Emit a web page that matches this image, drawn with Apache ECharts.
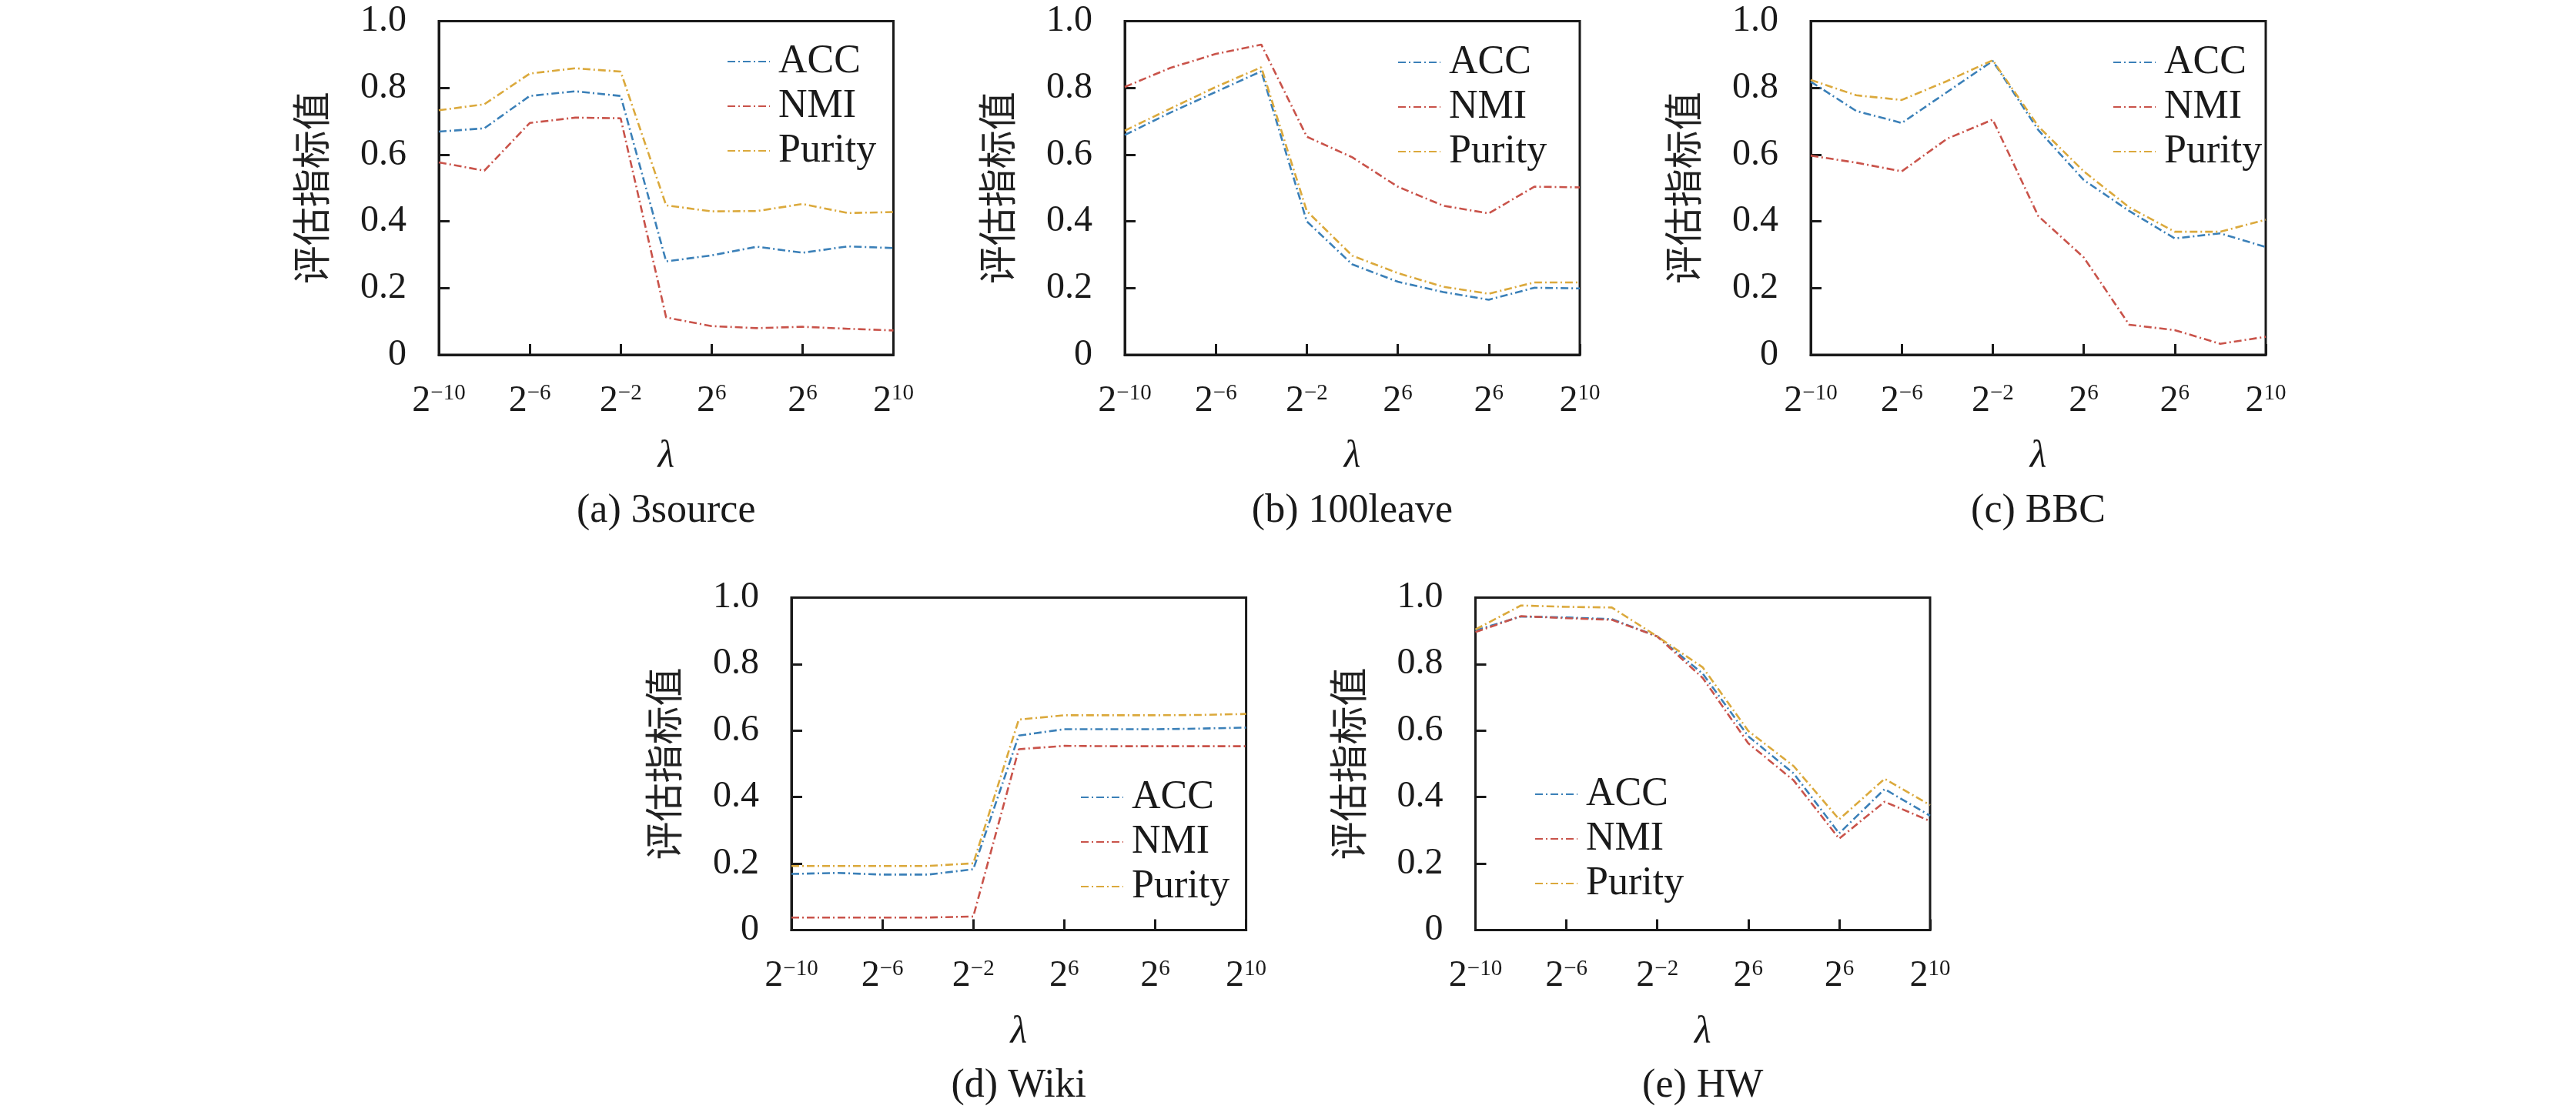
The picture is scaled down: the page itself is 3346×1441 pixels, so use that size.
<!DOCTYPE html>
<html>
<head>
<meta charset="utf-8">
<script src="https://cdn.jsdelivr.net/npm/echarts@6/dist/echarts.min.js"></script>
<style>
html,body{margin:0;padding:0;background:#fff;}
#chart{width:3346px;height:1441px;}
</style>
</head>
<body>
<div id="chart"></div>
<script>
// ---- categories and tick labels ----
const lambdaCats = ['2^-10','2^-8','2^-6','2^-4','2^-2','2^0','2^2','2^4','2^6','2^8','2^10'];
const xTickBase = '2';
const xTickExps = ['\u221210','','\u22126','','\u22122','','6','','6','','10'];
const seriesNames = ['ACC','NMI','Purity'];
const yAxisName = '评估指标值';
const xAxisName = 'λ';
const captions = ['(a) 3source','(b) 100leave','(c) BBC','(d) Wiki','(e) HW'];

// ---- values ----
const src3ACC = [0.669,0.679,0.776,0.790,0.776,0.280,0.298,0.324,0.306,0.325,0.320];
const src3NMI = [0.577,0.552,0.695,0.711,0.709,0.112,0.086,0.080,0.084,0.078,0.073];
const src3Purity = [0.733,0.751,0.843,0.859,0.849,0.448,0.430,0.431,0.452,0.425,0.428];

const leaveACC = [0.659,0.726,0.788,0.850,0.400,0.271,0.219,0.188,0.165,0.201,0.199];
const leaveNMI = [0.803,0.860,0.902,0.930,0.654,0.592,0.504,0.447,0.424,0.504,0.502];
const leavePurity = [0.672,0.738,0.803,0.862,0.431,0.297,0.245,0.204,0.183,0.217,0.217];

const bbcACC = [0.819,0.731,0.695,0.788,0.881,0.674,0.524,0.431,0.349,0.364,0.323];
const bbcNMI = [0.597,0.576,0.550,0.648,0.705,0.416,0.292,0.090,0.074,0.033,0.054];
const bbcPurity = [0.824,0.778,0.764,0.821,0.883,0.685,0.550,0.442,0.369,0.369,0.405];

const wikiACC = [0.169,0.172,0.167,0.167,0.183,0.585,0.604,0.604,0.604,0.606,0.609];
const wikiNMI = [0.038,0.038,0.038,0.038,0.041,0.544,0.554,0.553,0.553,0.553,0.553];
const wikiPurity = [0.193,0.193,0.193,0.193,0.201,0.633,0.646,0.646,0.646,0.647,0.650];

const hwACC = [0.901,0.943,0.940,0.935,0.883,0.771,0.583,0.471,0.291,0.424,0.344];
const hwNMI = [0.896,0.944,0.938,0.933,0.883,0.758,0.562,0.450,0.275,0.386,0.328];
const hwPurity = [0.904,0.976,0.972,0.970,0.883,0.790,0.599,0.493,0.333,0.455,0.376];

const panelData = [
  [src3ACC, src3NMI, src3Purity],
  [leaveACC, leaveNMI, leavePurity],
  [bbcACC, bbcNMI, bbcPurity],
  [wikiACC, wikiNMI, wikiPurity],
  [hwACC, hwNMI, hwPurity]
];

// ---- layout / style (not data) ----
const panels = [
  {left:570,  top:27.6,  width:590.5, height:433.4, legLeft:944,  legTop:54},
  {left:1461, top:27.6,  width:591,   height:433.4, legLeft:1815, legTop:55},
  {left:2352, top:27.6,  width:591,   height:433.4, legLeft:2744, legTop:55},
  {left:1028, top:776.4, width:590.6, height:432.2, legLeft:1403, legTop:1010},
  {left:1916.5,top:776.4,width:590.5, height:432.2, legLeft:1993, legTop:1006}
];
const colors = ['#3b80b8','#c9534a','#dba93c'];
const serif = '"Liberation Serif","Times New Roman",serif';
const ink = '#1a1a1a';

const grids = [], xAxes = [], yAxes = [], series = [], legends = [], titles = [];
panels.forEach((p, i) => {
  grids.push({left:p.left, top:p.top, width:p.width, height:p.height,
    show:true, borderColor:ink, borderWidth:3, backgroundColor:'transparent'});
  xAxes.push({
    type:'category', gridIndex:i, data:lambdaCats, boundaryGap:false,
    name:xAxisName, nameLocation:'middle', nameGap:108,
    nameTextStyle:{fontFamily:serif, fontStyle:'italic', fontSize:50, color:ink},
    axisLine:{lineStyle:{color:ink, width:3}},
    axisTick:{inside:true, length:14, interval:1, lineStyle:{color:ink, width:3}},
    axisLabel:{
      interval:1, margin:36, color:ink,
      formatter:(v, idx) => '{b|' + xTickBase + '}{s|' + xTickExps[idx] + '}',
      rich:{
        b:{fontFamily:serif, fontSize:48, lineHeight:48, color:ink},
        s:{fontFamily:serif, fontSize:29, lineHeight:29, verticalAlign:'top', color:ink}
      }
    },
    splitLine:{show:false}
  });
  yAxes.push({
    type:'value', gridIndex:i, min:0, max:1, interval:0.2,
    name:yAxisName, nameLocation:'middle', nameGap:141,
    nameTextStyle:{fontFamily:'"Noto Sans CJK SC"', fontSize:50, color:'#222'},
    axisLine:{show:true, lineStyle:{color:ink, width:3}},
    axisTick:{show:true, inside:true, length:14, lineStyle:{color:ink, width:3}},
    axisLabel:{margin:42, fontFamily:serif, fontSize:48, color:ink,
      formatter:v => v === 0 ? '0' : v.toFixed(1)},
    splitLine:{show:false}
  });
  panelData[i].forEach((vals, k) => {
    series.push({
      name:seriesNames[k], type:'line', xAxisIndex:i, yAxisIndex:i,
      data:vals, symbol:'none', smooth:false,
      lineStyle:{color:colors[k], width:2.6, type:[10,4,2,4]},
      itemStyle:{color:colors[k]}
    });
  });
  legends.push({
    data:seriesNames, orient:'vertical', left:p.legLeft, top:p.legTop,
    itemWidth:55, itemHeight:14, itemGap:6, padding:0,
    itemStyle:{opacity:0},
    textStyle:{fontFamily:serif, fontSize:52, color:ink, padding:[0,0,0,6]}
  });
  titles.push({
    text:captions[i], left:p.left + p.width/2, top:p.top + p.height + 177,
    textAlign:'center', padding:0,
    textStyle:{fontFamily:serif, fontSize:52, fontWeight:'normal', color:ink}
  });
});

const chart = echarts.init(document.getElementById('chart'), null, {renderer:'canvas'});
chart.setOption({
  animation:false,
  backgroundColor:'#fff',
  title:titles,
  grid:grids, xAxis:xAxes, yAxis:yAxes, legend:legends, series:series
});
</script>
</body>
</html>
